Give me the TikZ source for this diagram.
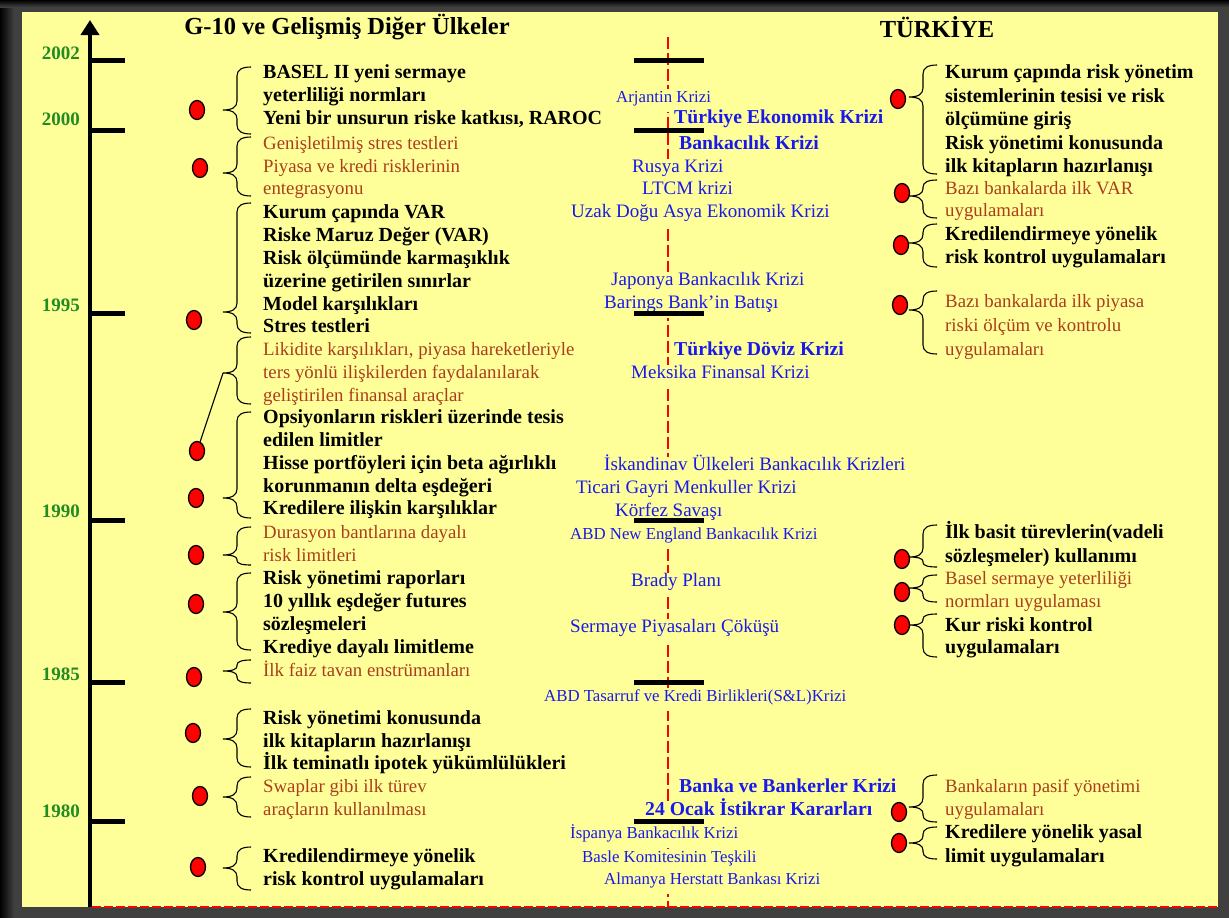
\documentclass[tikz,border=0pt]{standalone}
\usepackage{fontspec}
\setmainfont{Liberation Serif}
\usetikzlibrary{arrows.meta,shapes.geometric}
\definecolor{cYel}{RGB}{255,255,153}
\definecolor{cBrown}{RGB}{170,62,30}
\definecolor{cBlue}{RGB}{25,25,235}
\definecolor{cGreen}{RGB}{34,139,34}
\definecolor{cFrame}{RGB}{64,64,64}
\definecolor{cRed}{RGB}{255,0,0}
\newcommand\tlines[6]{\foreach \myln [count=\myi] in {#6} {\node[#2] (#1-\myi) at (#3,{#4+(\myi-1)*#5}) {\myln};}}
\newcommand\gbrace[5]{%
 \pgfmathsetmacro\brA{min(9,(#3-#2)/2.2)}%
 \pgfmathsetmacro\brB{min(9,(#4-#3)/2.2)}%
 \draw[brc] (#1+14,#2) .. controls (#1+5,#2) and (#1,#2+\brA*0.3) .. (#1,#2+\brA)
   -- (#1,#3-\brA) .. controls (#1,#3-\brA*0.3) and (#1-5,#3) .. (#1-14,#3) coordinate (#5)
   .. controls (#1-5,#3) and (#1,#3+\brB*0.3) .. (#1,#3+\brB)
   -- (#1,#4-\brB) .. controls (#1,#4-\brB*0.3) and (#1+5,#4) .. (#1+14,#4);}
\begin{document}
\begin{tikzpicture}[x=1pt,y=-1pt,
 txt/.style={anchor=west,inner xsep=0pt,inner ysep=0pt,text height=0.69em,text depth=0.22em,yshift=-3.5pt},
 blk/.style={txt,text=black,font=\fontsize{20}{23}\selectfont\bfseries},
 brw/.style={txt,text=cBrown,font=\fontsize{18.8}{23}\selectfont},
 ctr/.style={txt,fill=cYel,inner xsep=1pt,minimum height=23.5pt,text=cBlue},
 bluL/.style={ctr,font=\fontsize{19}{23}\selectfont},
 bluS/.style={ctr,font=\fontsize{16.8}{23}\selectfont},
 bluB/.style={ctr,font=\fontsize{19.7}{23}\selectfont\bfseries},
 year/.style={anchor=east,inner sep=0pt,yshift=-2pt,text=cGreen,font=\fontsize{19}{23}\selectfont\bfseries},
 ttl/.style={inner sep=0pt,font=\fontsize{24.5}{28}\selectfont\bfseries},
 dot/.style={ellipse,draw=black,line width=1.3pt,fill=cRed,minimum width=15pt,minimum height=19pt,inner sep=0pt},
 brc/.style={draw=black,line width=1.1pt},
 tick/.style={line width=5pt},
 cbar/.style={line width=5pt},
 cdash/.style={cRed,line width=2.5pt,dash pattern=on 12pt off 4pt},
]
\useasboundingbox (0,0) rectangle (1229,918);
% frame and panel
\fill[cFrame] (0,0) rectangle (1229,918);
\shade[left color=black,right color=cFrame] (0,0) rectangle (14,918);
\shade[top color=black,bottom color=cFrame] (0,0) rectangle (1229,7);
\fill[cYel] (22,12) rectangle (1218,907);
% centre dashed line and bottom line
\draw[cdash] (668,37) -- (668,907);
\draw[cRed,line width=2pt,dash pattern=on 9pt off 3pt] (92,906.5) -- (1218,906.5);
% centre events
\node[bluS] (c1) at (615,97) {Arjantin Krizi};
\node[bluB] (c2) at (673,118) {Türkiye Ekonomik Krizi};
\node[bluB] (c3) at (678,144) {Bankacılık Krizi};
\node[bluL] (c4) at (631,167) {Rusya Krizi};
\node[bluL] (c5) at (641,189) {LTCM krizi};
\node[bluL] (c6) at (570,212) {Uzak Doğu Asya Ekonomik Krizi};
\node[bluL] (c7) at (610,280) {Japonya Bankacılık Krizi};
\node[bluL] (c8) at (603,303) {Barings Bank'in Batışı};
\node[bluB] (c9) at (673,350) {Türkiye Döviz Krizi};
\node[bluL] (c10) at (630,373) {Meksika Finansal Krizi};
\node[bluL] (c11) at (603,465) {İskandinav Ülkeleri Bankacılık Krizleri};
\node[bluL] (c12) at (575,488) {Ticari Gayri Menkuller Krizi};
\node[bluL] (c13) at (614,511) {Körfez Savaşı};
\node[bluS] (c14) at (569,534) {ABD New England Bankacılık Krizi};
\node[bluL] (c15) at (630,581) {Brady Planı};
\node[bluL] (c16) at (569,627) {Sermaye Piyasaları Çöküşü};
\node[bluS] (c17) at (543,696) {ABD Tasarruf ve Kredi Birlikleri(S\&L)Krizi};
\node[bluB] (c18) at (678,787) {Banka ve Bankerler Krizi};
\node[bluB] (c19) at (644,810) {24 Ocak İstikrar Kararları};
\node[bluS] (c20) at (569,833) {İspanya Bankacılık Krizi};
\node[bluS] (c21) at (581,857) {Basle Komitesinin Teşkili};
\node[bluS] (c22) at (603,879) {Almanya Herstatt Bankası Krizi};
% centre bars
\foreach \yy in {60,130,313,520,682,821} \draw[cbar] (634,\yy) -- (704,\yy);
% axis
\draw[line width=4.5pt,-{Triangle[width=18pt,length=15pt]}] (90,907) -- (90,20);
\foreach \yy in {60,130,313,520,682,821} \draw[tick] (88,\yy) -- (125,\yy);
\node[year] (y2002) at (80,51) {2002};
\node[year] (y2000) at (80,117) {2000};
\node[year] (y1995) at (80,303) {1995};
\node[year] (y1990) at (80,509) {1990};
\node[year] (y1985) at (80,672) {1985};
\node[year] (y1980) at (80,809) {1980};
% titles
\node[ttl] (t1) at (347,27) {G-10 ve Gelişmiş Diğer Ülkeler};
\node[ttl] (t2) at (937,27) {TÜRKİYE};
% left column
\tlines{L1}{blk}{263}{73}{23}{BASEL II yeni sermaye, yeterliliği normları, {Yeni bir unsurun riske katkısı, RAROC}}
\tlines{L2}{brw}{263}{144}{22.5}{Genişletilmiş stres testleri, Piyasa ve kredi risklerinin, entegrasyonu}
\tlines{L3}{blk}{263}{213}{22.8}{Kurum çapında VAR, Riske Maruz Değer (VAR), Risk ölçümünde karmaşıklık, üzerine getirilen sınırlar, Model karşılıkları, Stres testleri}
\tlines{L4}{brw}{263}{350}{23}{{Likidite karşılıkları, piyasa hareketleriyle}, ters yönlü ilişkilerden faydalanılarak, geliştirilen finansal araçlar}
\tlines{L5}{blk}{263}{418}{22.75}{Opsiyonların riskleri üzerinde tesis, edilen limitler, Hisse portföyleri için beta ağırlıklı, korunmanın delta eşdeğeri, Kredilere ilişkin karşılıklar}
\tlines{L6}{brw}{263}{533}{23}{Durasyon bantlarına dayalı, risk limitleri}
\tlines{L7}{blk}{263}{579}{23}{Risk yönetimi raporları, 10 yıllık eşdeğer futures, sözleşmeleri, Krediye dayalı limitleme}
\tlines{L8}{brw}{263}{671}{23}{İlk faiz tavan enstrümanları}
\tlines{L9}{blk}{263}{719}{22.5}{Risk yönetimi konusunda, ilk kitapların hazırlanışı, İlk teminatlı ipotek yükümlülükleri}
\tlines{L10}{brw}{263}{787}{23}{Swaplar gibi ilk türev, araçların kullanılması}
\tlines{L11}{blk}{263}{857}{23}{Kredilendirmeye yönelik, risk kontrol uygulamaları}
% right column
\tlines{R1}{blk}{945}{73}{23.5}{Kurum çapında risk yönetim, sistemlerinin tesisi ve risk, ölçümüne giriş, Risk yönetimi konusunda, ilk kitapların hazırlanışı}
\tlines{R2}{brw}{945}{189}{22}{Bazı bankalarda ilk VAR, uygulamaları}
\tlines{R3}{blk}{945}{235}{23}{Kredilendirmeye yönelik, risk kontrol uygulamaları}
\tlines{R4}{brw}{945}{302}{24}{Bazı bankalarda ilk piyasa, riski ölçüm ve kontrolu, uygulamaları}
\tlines{R5}{blk}{945}{533}{24}{İlk basit türevlerin(vadeli, sözleşmeler) kullanımı}
\tlines{R6}{brw}{945}{579}{23}{Basel sermaye yeterliliği, normları uygulaması}
\tlines{R7}{blk}{945}{626}{22}{Kur riski kontrol, uygulamaları}
\tlines{R8}{brw}{945}{787}{23}{Bankaların pasif yönetimi, uygulamaları}
\tlines{R9}{blk}{945}{833}{24}{Kredilere yönelik yasal, limit uygulamaları}
% braces
\gbrace{237}{67}{110}{134}{bL1}
\gbrace{237}{137}{173}{196}{bL2}
\gbrace{237}{203}{312}{333}{bL3}
\gbrace{237}{337}{373}{404}{bL4}
\gbrace{237}{412}{498}{518}{bL5}
\gbrace{237}{527}{555}{565}{bL6}
\gbrace{237}{573}{612}{650}{bL7}
\gbrace{237}{660}{671}{683}{bL8}
\gbrace{237}{709}{739}{767}{bL9}
\gbrace{237}{777}{797}{817}{bL10}
\gbrace{237}{847}{868}{890}{bL11}
\gbrace{923}{65}{97}{174}{bR1}
\gbrace{923}{180}{196}{218}{bR2}
\gbrace{923}{224}{243}{267}{bR3}
\gbrace{923}{291}{310}{354}{bR4}
\gbrace{923}{525}{557}{567}{bR5}
\gbrace{923}{575}{588}{602}{bR6}
\gbrace{923}{614}{625}{657}{bR7}
\gbrace{923}{775}{807}{822}{bR8}
\gbrace{923}{827}{843}{859}{bR9}
% dots
\node[dot] (dL1) at (197,110) {};
\node[dot] (dL2) at (200,168) {};
\node[dot] (dL3) at (194,320) {};
\node[dot] (dL4) at (197,451) {};
\node[dot] (dL5) at (196,498) {};
\node[dot] (dL6) at (196,555) {};
\node[dot] (dL7) at (196,604) {};
\node[dot] (dL8) at (194,677) {};
\node[dot] (dL9) at (193,733) {};
\node[dot] (dL10) at (200,796) {};
\node[dot] (dL11) at (198,867) {};
\node[dot] (dR1) at (898,99) {};
\node[dot] (dR2) at (902,193) {};
\node[dot] (dR3) at (901,245) {};
\node[dot] (dR4) at (900,305) {};
\node[dot] (dR5) at (902,559) {};
\node[dot] (dR6) at (902,592) {};
\node[dot] (dR7) at (902,625) {};
\node[dot] (dR8) at (899,812) {};
\node[dot] (dR9) at (899,843) {};
\draw[brc] (bL4) -- (dL4);
\end{tikzpicture}
\end{document}
